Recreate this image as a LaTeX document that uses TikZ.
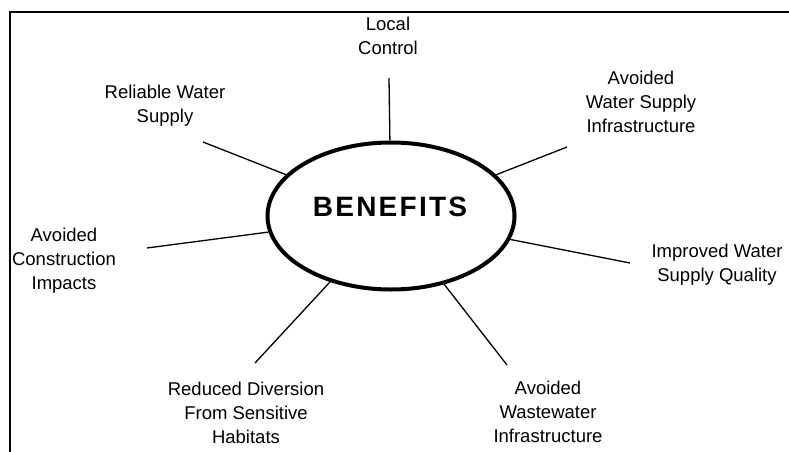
\documentclass[tikz,border=0pt]{standalone}
\usepackage{fontspec}
\setmainfont{Liberation Sans}
\newfontfamily\widebold[LetterSpace=8]{Liberation Sans}
\usetikzlibrary{shapes.geometric}

\begin{document}
\begin{tikzpicture}[x=1pt,y=-1pt,
    lbl/.style={align=center, font=\fontsize{18.5}{24}\selectfont, inner sep=0pt},
    hub/.style={ellipse, draw, line width=4pt, minimum width=247pt, minimum height=147pt, inner sep=0pt},
    spoke/.style={line width=1.3pt}]
    \clip (0,0) rectangle (789,452);
    \draw[line width=2pt] (10,12) rectangle (800,470);

    % centre
    \node[hub] (benefits) at (391,216) {};
    \node[font=\fontsize{28}{30}\selectfont\widebold\bfseries, inner sep=0pt] (title) at (390,207) {BENEFITS};

    % labels
    \node[lbl] (local) at (388,36) {Local\\Control};
    \node[lbl] (reliable) at (165,106) {Reliable Water\\Supply};
    \node[lbl] (watersupply) at (641,102) {Avoided\\Water Supply\\Infrastructure};
    \node[lbl] (construction) at (64,261) {Avoided\\Construction\\Impacts};
    \node[lbl] (quality) at (717,265) {Improved Water\\Supply Quality};
    \node[lbl] (diversion) at (246,413) {Reduced Diversion\\From Sensitive\\Habitats};
    \node[lbl] (wastewater) at (548,412) {Avoided\\Wastewater\\Infrastructure};

    % spokes
    \coordinate (c-local) at (389,78);
    \coordinate (c-reliable) at (203,142);
    \coordinate (c-watersupply) at (567,147);
    \coordinate (c-construction) at (147,248);
    \coordinate (c-quality) at (630,263);
    \coordinate (c-diversion) at (255,363);
    \coordinate (c-wastewater) at (507,365);
    \foreach \c in {local,reliable,watersupply,construction,quality,diversion,wastewater}
        \draw[spoke] (c-\c) -- (benefits);
\end{tikzpicture}
\end{document}
